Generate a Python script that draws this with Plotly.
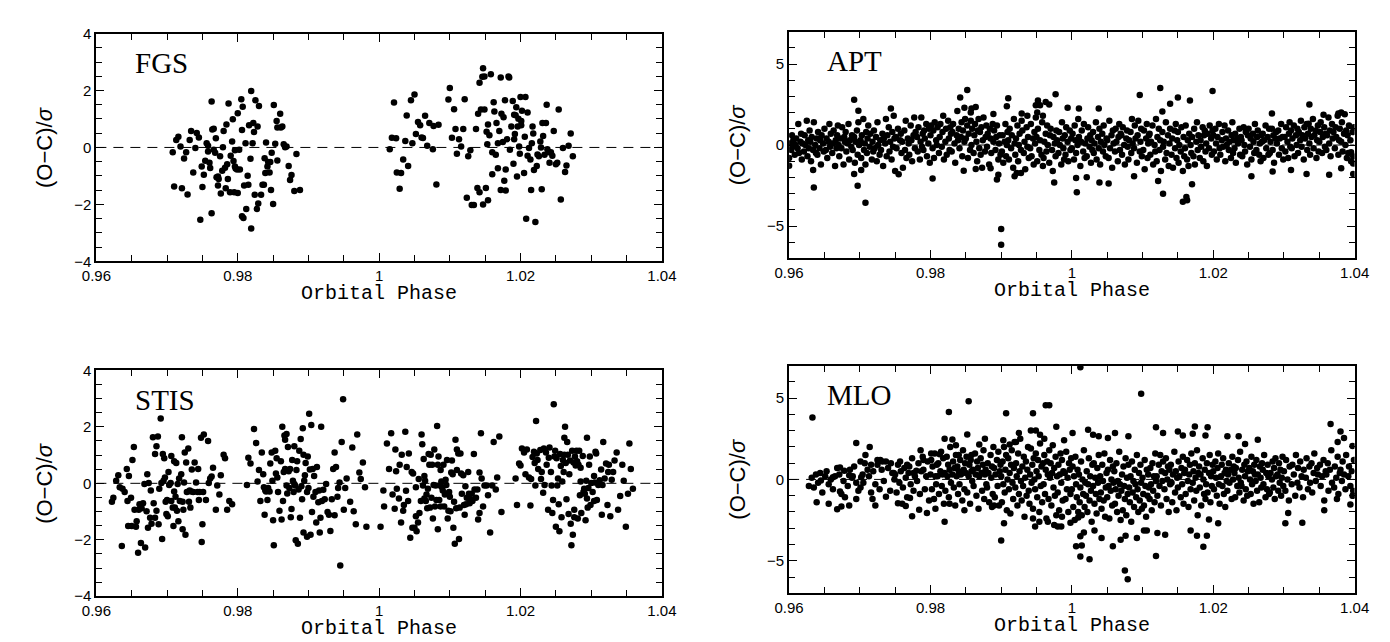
import plotly.graph_objects as go

# FGS residuals (phase, (O-C)/sigma)
fgs_phase = [
    0.9708, 0.9713, 0.9716, 0.9719, 0.9710, 0.9721, 0.9724, 0.9727, 0.9729, 0.9732,
    0.9734, 0.9737, 0.9740, 0.9742, 0.9745, 0.9747, 0.9749, 0.9750, 0.9752, 0.9754,
    0.9756, 0.9758, 0.9758, 0.9760, 0.9761, 0.9763, 0.9763, 0.9764, 0.9766, 0.9766,
    0.9768, 0.9769, 0.9770, 0.9772, 0.9772, 0.9773, 0.9775, 0.9776, 0.9778, 0.9779,
    0.9780, 0.9782, 0.9783, 0.9784, 0.9785, 0.9786, 0.9787, 0.9789, 0.9790, 0.9792,
    0.9793, 0.9794, 0.9795, 0.9796, 0.9796, 0.9797, 0.9799, 0.9800, 0.9800, 0.9802,
    0.9803, 0.9805, 0.9806, 0.9806, 0.9807, 0.9808, 0.9809, 0.9811, 0.9812, 0.9814,
    0.9815, 0.9816, 0.9818, 0.9819, 0.9819, 0.9821, 0.9822, 0.9823, 0.9824, 0.9825,
    0.9827, 0.9828, 0.9829, 0.9830, 0.9833, 0.9835, 0.9837, 0.9838, 0.9839, 0.9840,
    0.9842, 0.9843, 0.9845, 0.9846, 0.9847, 0.9848, 0.9850, 0.9851, 0.9853, 0.9855,
    0.9856, 0.9856, 0.9860, 0.9861, 0.9863, 0.9865, 0.9867, 0.9869, 0.9872, 0.9874,
    0.9876, 0.9880, 0.9883, 0.9888,
    1.0015, 1.0018, 1.0021, 1.0024, 1.0025, 1.0029, 1.0031, 1.0034, 1.0037, 1.0039,
    1.0041, 1.0045, 1.0047, 1.0050, 1.0052, 1.0055, 1.0058, 1.0060, 1.0062, 1.0065,
    1.0068, 1.0071, 1.0076, 1.0077, 1.0081, 1.0084, 1.0098, 1.0100, 1.0103, 1.0106,
    1.0108, 1.0110, 1.0113, 1.0116, 1.0119, 1.0121, 1.0124, 1.0126, 1.0129, 1.0131,
    1.0134, 1.0137, 1.0139, 1.0140, 1.0142, 1.0142, 1.0144, 1.0146, 1.0147, 1.0149,
    1.0147, 1.0149, 1.0151, 1.0152, 1.0153, 1.0154, 1.0154, 1.0156, 1.0158, 1.0160,
    1.0160, 1.0162, 1.0163, 1.0165, 1.0166, 1.0168, 1.0168, 1.0170, 1.0172, 1.0172,
    1.0173, 1.0175, 1.0176, 1.0177, 1.0178, 1.0179, 1.0179, 1.0181, 1.0183, 1.0184,
    1.0185, 1.0187, 1.0189, 1.0190, 1.0191, 1.0191, 1.0192, 1.0193, 1.0194, 1.0195,
    1.0196, 1.0197, 1.0198, 1.0199, 1.0200, 1.0201, 1.0201, 1.0202, 1.0205, 1.0206,
    1.0207, 1.0208, 1.0210, 1.0210, 1.0212, 1.0214, 1.0215, 1.0216, 1.0217, 1.0218,
    1.0219, 1.0221, 1.0223, 1.0224, 1.0226, 1.0228, 1.0229, 1.0230, 1.0231, 1.0232,
    1.0234, 1.0236, 1.0237, 1.0238, 1.0240, 1.0241, 1.0243, 1.0245, 1.0247, 1.0250,
    1.0252, 1.0254, 1.0257, 1.0260, 1.0263, 1.0265, 1.0268, 1.0271, 1.0274,
]
fgs_resid = [
    -0.17, 0.26, 0.38, 0.03, -1.37, -1.43, -0.39, -0.17, -1.65, 0.26,
    0.58, -0.88, -0.02, 0.51, 0.35, -2.54, -0.67, -1.39, -0.96, -0.47,
    0.15, -0.14, 0.06, -0.54, -0.72, 1.61, -2.31, 0.63, 0.66, -0.08,
    -0.19, 0.32, -1.05, -1.02, -1.34, -1.11, -0.31, -1.62, -0.82, 0.01,
    0.58, -0.71, -1.43, 0.81, -0.59, -1.11, 1.54, -1.57, -0.29, 0.21,
    0.99, -0.48, -1.57, -0.67, -0.10, -0.74, -0.77, 1.20, -1.60, -0.08,
    -0.77, 1.69, 0.61, -2.42, 1.43, -2.48, -1.34, 0.15, -2.16, -0.99,
    -1.31, 0.78, -0.40, 1.98, -2.85, 0.15, 0.86, 0.54, -1.66, 1.66,
    -2.16, 0.74, -1.97, 1.46, -1.66, -1.31, -1.31, -0.38, -0.90, 0.17,
    -0.67, -0.51, -0.88, -0.51, -1.49, -0.19, -1.99, 1.49, 0.13, 0.93,
    0.70, -0.46, 1.18, 0.70, 0.74, 0.11, 0.01, 0.03, -0.65, -1.14,
    -0.97, -1.53, -0.23, -1.49,
    -0.06, 0.34, 1.58, 0.32, -0.88, -1.45, -0.90, -0.42, 0.23, 1.12,
    -0.65, 1.66, 0.15, 1.86, 0.47, 0.89, 0.78, 0.35, 0.33, 1.11,
    0.06, 0.86, -0.06, 0.75, -1.30, 0.80, 1.68, 2.09, 0.34, 1.34,
    0.65, -0.22, 0.29, 0.03, 0.65, 1.69, -1.77, -0.31, -0.10, -2.02,
    -2.02, 0.65, -1.42, 1.18, -1.57, 2.27, 1.33, 2.48, 2.78, 2.49,
    -2.00, 1.33, -1.42, 0.55, 0.11, -1.85, 0.81, 0.43, 2.57, -0.17,
    -0.94, 1.59, 1.26, -0.26, 0.86, 0.15, -0.73, 0.58, 2.46, -1.49,
    1.18, 0.19, 1.06, -1.17, 1.66, -0.77, -1.51, 0.29, 2.49, 2.46,
    -0.08, 0.74, 1.63, -0.57, 1.15, 0.29, 0.47, 1.13, 1.41, -1.02,
    0.74, 1.01, 0.03, -0.22, 1.77, 0.78, 0.93, 1.29, -0.90, 0.38,
    1.77, -2.50, -0.29, 1.23, -0.02, -0.42, -1.49, 0.15, 0.74, 0.49,
    -0.79, -2.62, -0.65, -0.25, -0.31, 0.21, 0.00, -1.47, 0.86, 0.40,
    -0.26, 0.86, 1.50, -0.06, -0.17, -0.54, -0.17, -0.29, 0.58, -0.59,
    -0.54, 1.33, -1.83, -0.02, -0.86, -0.63, 0.06, 0.49, -0.31,
]

# STIS residuals
stis_phase = [
    0.9622, 0.9624, 0.9628, 0.9631, 0.9633, 0.9636, 0.9637, 0.9640, 0.9643, 0.9644,
    0.9645, 0.9646, 0.9649, 0.9650, 0.9651, 0.9653, 0.9654, 0.9656, 0.9657, 0.9659,
    0.9660, 0.9661, 0.9663, 0.9664, 0.9666, 0.9668, 0.9669, 0.9671, 0.9672, 0.9673,
    0.9674, 0.9676, 0.9677, 0.9678, 0.9680, 0.9681, 0.9683, 0.9683, 0.9685, 0.9685,
    0.9687, 0.9688, 0.9689, 0.9691, 0.9692, 0.9693, 0.9694, 0.9695, 0.9696, 0.9697,
    0.9698, 0.9699, 0.9700, 0.9701, 0.9702, 0.9703, 0.9705, 0.9706, 0.9706, 0.9708,
    0.9709, 0.9710, 0.9710, 0.9711, 0.9712, 0.9713, 0.9714, 0.9715, 0.9716, 0.9717,
    0.9718, 0.9720, 0.9721, 0.9722, 0.9722, 0.9723, 0.9724, 0.9725, 0.9726, 0.9727,
    0.9728, 0.9730, 0.9731, 0.9732, 0.9733, 0.9734, 0.9735, 0.9737, 0.9739, 0.9741,
    0.9743, 0.9744, 0.9745, 0.9746, 0.9748, 0.9749, 0.9750, 0.9751, 0.9752, 0.9755,
    0.9758, 0.9759, 0.9761, 0.9763, 0.9765, 0.9769, 0.9771, 0.9774, 0.9776, 0.9780,
    0.9782, 0.9785, 0.9788, 0.9792,
    0.9813, 0.9815, 0.9818, 0.9823, 0.9826, 0.9828, 0.9830, 0.9832, 0.9834, 0.9836,
    0.9837, 0.9838, 0.9839, 0.9840, 0.9842, 0.9843, 0.9845, 0.9846, 0.9848, 0.9849,
    0.9850, 0.9851, 0.9853, 0.9854, 0.9855, 0.9856, 0.9857, 0.9859, 0.9861, 0.9862,
    0.9863, 0.9864, 0.9865, 0.9866, 0.9867, 0.9867, 0.9869, 0.9869, 0.9870, 0.9871,
    0.9872, 0.9873, 0.9874, 0.9875, 0.9876, 0.9877, 0.9878, 0.9879, 0.9880, 0.9880,
    0.9881, 0.9882, 0.9883, 0.9884, 0.9885, 0.9886, 0.9887, 0.9888, 0.9889, 0.9890,
    0.9891, 0.9892, 0.9893, 0.9893, 0.9894, 0.9895, 0.9896, 0.9898, 0.9898, 0.9899,
    0.9900, 0.9901, 0.9902, 0.9903, 0.9904, 0.9905, 0.9906, 0.9907, 0.9908, 0.9910,
    0.9911, 0.9912, 0.9914, 0.9915, 0.9916, 0.9917, 0.9918, 0.9919, 0.9921, 0.9923,
    0.9925, 0.9927, 0.9929, 0.9931, 0.9933, 0.9935, 0.9937, 0.9937, 0.9939, 0.9941,
    0.9942, 0.9944, 0.9945, 0.9947, 0.9949, 0.9950, 0.9952, 0.9954, 0.9959, 0.9962,
    0.9964, 0.9967, 0.9969, 0.9972, 0.9974, 0.9977, 0.9980, 0.9982,
    1.0002, 1.0006, 1.0007, 1.0011, 1.0014, 1.0017, 1.0019, 1.0022, 1.0023, 1.0024,
    1.0025, 1.0028, 1.0029, 1.0031, 1.0032, 1.0034, 1.0035, 1.0037, 1.0038, 1.0039,
    1.0041, 1.0042, 1.0044, 1.0046, 1.0047, 1.0048, 1.0050, 1.0052, 1.0052, 1.0053,
    1.0055, 1.0056, 1.0057, 1.0059, 1.0060, 1.0061, 1.0062, 1.0063, 1.0064, 1.0064,
    1.0065, 1.0066, 1.0067, 1.0068, 1.0069, 1.0070, 1.0071, 1.0072, 1.0073, 1.0074,
    1.0075, 1.0076, 1.0077, 1.0078, 1.0079, 1.0080, 1.0081, 1.0082, 1.0083, 1.0083,
    1.0084, 1.0085, 1.0086, 1.0087, 1.0087, 1.0088, 1.0089, 1.0090, 1.0091, 1.0092,
    1.0093, 1.0094, 1.0095, 1.0096, 1.0097, 1.0097, 1.0098, 1.0099, 1.0100, 1.0101,
    1.0102, 1.0103, 1.0104, 1.0105, 1.0106, 1.0107, 1.0108, 1.0109, 1.0110, 1.0110,
    1.0112, 1.0113, 1.0114, 1.0115, 1.0116, 1.0117, 1.0119, 1.0120, 1.0121, 1.0122,
    1.0123, 1.0124, 1.0126, 1.0127, 1.0128, 1.0129, 1.0131, 1.0132, 1.0134, 1.0135,
    1.0137, 1.0139, 1.0140, 1.0142, 1.0142, 1.0144, 1.0145, 1.0147, 1.0149, 1.0152,
    1.0154, 1.0157, 1.0160, 1.0162, 1.0165, 1.0167, 1.0170, 1.0173,
    1.0193, 1.0195, 1.0198, 1.0200, 1.0202, 1.0205, 1.0207, 1.0209, 1.0212, 1.0214,
    1.0215, 1.0217, 1.0219, 1.0220, 1.0221, 1.0222, 1.0223, 1.0224, 1.0225, 1.0228,
    1.0229, 1.0230, 1.0232, 1.0233, 1.0234, 1.0236, 1.0237, 1.0239, 1.0240, 1.0241,
    1.0243, 1.0244, 1.0245, 1.0246, 1.0247, 1.0248, 1.0249, 1.0250, 1.0251, 1.0252,
    1.0253, 1.0254, 1.0255, 1.0256, 1.0257, 1.0258, 1.0259, 1.0260, 1.0261, 1.0262,
    1.0262, 1.0263, 1.0264, 1.0265, 1.0266, 1.0267, 1.0268, 1.0269, 1.0270, 1.0271,
    1.0272, 1.0273, 1.0274, 1.0275, 1.0276, 1.0276, 1.0277, 1.0278, 1.0279, 1.0280,
    1.0281, 1.0282, 1.0283, 1.0284, 1.0285, 1.0285, 1.0286, 1.0288, 1.0289, 1.0290,
    1.0291, 1.0292, 1.0293, 1.0294, 1.0294, 1.0295, 1.0296, 1.0297, 1.0298, 1.0299,
    1.0300, 1.0302, 1.0304, 1.0304, 1.0305, 1.0306, 1.0307, 1.0308, 1.0310, 1.0312,
    1.0314, 1.0315, 1.0316, 1.0317, 1.0319, 1.0321, 1.0323, 1.0324, 1.0325, 1.0327,
    1.0329, 1.0331, 1.0333, 1.0336, 1.0338, 1.0341, 1.0344, 1.0346, 1.0349, 1.0352,
    1.0354, 1.0356, 1.0359,
]
stis_resid = [
    -0.65, -0.51, 0.09, 0.29, -0.14, -2.22, -0.19, -0.31, 0.51, -0.63,
    -1.51, 0.26, -0.51, -1.51, 0.83, 1.29, -0.94, -1.54, -1.34, -2.46,
    -0.94, -0.74, -2.11, -0.88, -0.71, -0.02, -2.27, -0.99, 0.32, -1.57,
    0.01, -1.22, -0.25, -1.43, 1.63, -0.71, -1.22, 1.04, -0.97, 1.31,
    1.66, -1.45, -0.19, 2.30, 0.01, -1.97, 1.04, 0.09, 0.89, 0.21,
    -0.65, -1.09, -0.59, -1.17, 0.40, -0.06, 0.01, 0.97, -0.63, -0.86,
    -1.51, -0.29, 0.78, -0.86, -0.48, 0.72, -0.97, -0.02, -1.34, 0.17,
    -0.63, 0.32, 1.63, -1.63, -0.65, -0.94, 0.03, 1.09, -1.82, 0.74,
    -0.31, 1.23, -0.65, -0.25, -0.86, -0.29, 0.49, -0.31, 0.74, 0.03,
    -0.31, 0.51, -0.59, -0.31, 1.61, -2.08, -1.45, -0.31, 1.73, -0.59,
    1.50, 0.01, 0.17, 0.24, 0.55, -0.94, -0.08, -0.40, 0.29, 1.01,
    0.89, -0.94, -0.63, -0.74,
    -0.06, 0.91, 0.70, 1.92, 1.43, 0.06, 0.47, -0.63, 1.09, 0.32,
    -0.14, -1.11, -0.25, -0.29, -0.59, -0.17, -0.29, 0.70, 1.09, 0.09,
    -1.31, -2.19, 1.15, 0.35, 0.89, 0.21, -0.31, -0.97, 0.78, -1.28,
    2.00, -0.63, 0.40, 1.69, 0.51, 1.54, 1.75, -0.08, -0.36, 1.29,
    0.43, -0.17, 0.51, -1.20, -0.91, 0.83, 0.09, -0.31, 1.31, -0.02,
    -0.08, -2.02, 0.47, 0.78, -2.14, -0.22, 1.15, -1.22, 1.57, -0.10,
    -0.56, 1.95, -1.74, 1.01, 0.09, 0.29, 0.72, -1.89, -0.31, 0.95,
    -0.17, 2.46, 0.49, -1.82, 2.07, -1.02, 0.51, -0.48, 0.26, -0.31,
    -1.39, 0.58, -0.67, -0.25, -1.74, -1.22, 2.00, -0.63, -0.23, -0.56,
    -0.02, -1.02, -1.11, -1.69, -0.56, 0.51, 1.09, -1.13, 0.58, -0.48,
    -0.17, 0.03, -2.91, 1.46, 2.98, -0.94, -0.17, 0.17, -0.65, 1.27,
    -0.99, -1.45, 1.73, 0.38, 0.15, 0.74, -0.14, -1.54,
    -1.54, -0.25, -0.82, 1.41, 0.51, 1.77, -0.40, -0.90, 1.20, 0.43,
    -0.19, -0.54, 0.66, -1.39, 1.01, -0.97, -0.77, 1.83, -0.26, 0.58,
    -0.63, 1.06, -1.93, 0.40, -1.57, 0.35, -1.57, -1.17, -0.14, -1.70,
    -1.39, 0.15, -1.05, -0.63, 1.73, 1.38, -0.08, 0.86, 0.26, -0.54,
    0.09, -0.63, -0.40, -0.88, -0.19, 1.04, 0.66, -0.86, 1.01, -0.51,
    0.66, -1.25, -0.06, 1.20, -0.82, -0.08, -0.59, 2.03, 0.66, -1.63,
    0.95, -0.59, -0.08, 0.47, -0.82, 0.06, -0.14, -0.25, 0.66, -0.82,
    -0.40, 0.13, -0.06, 0.83, -1.25, -0.37, -0.97, -0.31, -0.48, -0.99,
    0.38, 0.81, 0.32, -1.57, -0.65, -2.14, 1.54, -0.88, 1.20, 0.47,
    1.06, -1.97, -0.86, 1.06, 0.35, -0.37, 0.29, -0.77, -1.11, -0.10,
    -0.74, -0.51, 0.40, -0.37, -0.71, -0.56, -0.37, -0.63, 1.04, -0.22,
    -0.51, -0.22, -1.28, -1.05, 0.38, 1.77, 0.17, -0.82, -0.08, -0.08,
    -0.42, -1.74, -0.08, 1.46, -0.22, 0.21, 1.66, -1.02,
    0.17, -0.77, 0.70, 0.63, 1.23, 1.09, 0.32, 1.20, 0.21, -0.79,
    0.15, 0.93, 1.12, 0.72, -0.08, 2.21, 1.06, 0.83, 0.51, 1.18,
    0.15, 0.40, -0.33, 1.23, -0.06, 1.09, 0.66, -0.94, 0.91, 1.27,
    0.40, -0.08, -1.05, -0.59, 2.80, 0.95, 1.15, -1.54, 0.89, -0.08,
    0.17, -0.74, -1.70, 1.04, 0.61, -1.20, 0.06, 0.83, 0.40, 1.61,
    1.01, 2.00, 0.72, -0.56, 1.46, 1.01, -1.09, 0.32, 0.81, -1.43,
    -2.19, 1.15, -1.82, 0.74, -1.20, -0.94, 0.95, 0.63, 1.15, 0.78,
    -1.25, 0.66, 1.15, -0.42, 0.55, 0.06, -1.05, 0.97, -0.31, -0.19,
    -0.37, -1.31, 0.09, -0.54, 1.61, -0.86, -0.17, 0.66, 0.95, -0.77,
    0.01, -0.31, 0.26, -0.63, 0.03, 1.12, 1.06, -0.59, -0.06, 0.11,
    0.49, -1.11, -0.06, 1.46, 0.17, 0.70, -0.77, 0.40, 0.66, -1.17,
    0.13, 0.40, 0.81, 1.09, -0.94, -0.45, 0.66, 0.09, -1.54, -0.37,
    1.41, 0.51, -0.19,
]

# APT residuals: dense band plus the scattered points
apt_band_phase = [
    0.9600, 0.9601, 0.9603, 0.9604, 0.9605, 0.9606, 0.9608, 0.9609,
    0.9610, 0.9612, 0.9613, 0.9614, 0.9616, 0.9617, 0.9618, 0.9619,
    0.9621, 0.9622, 0.9623, 0.9625, 0.9626, 0.9627, 0.9628, 0.9629,
    0.9630, 0.9631, 0.9632, 0.9634, 0.9635, 0.9637, 0.9638, 0.9639,
    0.9640, 0.9641, 0.9643, 0.9644, 0.9645, 0.9646, 0.9648, 0.9649,
    0.9650, 0.9652, 0.9653, 0.9654, 0.9656, 0.9657, 0.9658, 0.9659,
    0.9661, 0.9662, 0.9663, 0.9665, 0.9666, 0.9667, 0.9668, 0.9669,
    0.9670, 0.9671, 0.9672, 0.9674, 0.9675, 0.9677, 0.9678, 0.9679,
    0.9680, 0.9681, 0.9683, 0.9684, 0.9685, 0.9686, 0.9688, 0.9689,
    0.9690, 0.9692, 0.9693, 0.9694, 0.9696, 0.9697, 0.9698, 0.9699,
    0.9701, 0.9702, 0.9703, 0.9705, 0.9706, 0.9707, 0.9708, 0.9709,
    0.9710, 0.9711, 0.9712, 0.9714, 0.9715, 0.9717, 0.9718, 0.9719,
    0.9720, 0.9721, 0.9723, 0.9724, 0.9725, 0.9726, 0.9728, 0.9729,
    0.9730, 0.9732, 0.9733, 0.9734, 0.9736, 0.9737, 0.9738, 0.9739,
    0.9741, 0.9742, 0.9743, 0.9745, 0.9746, 0.9747, 0.9748, 0.9749,
    0.9750, 0.9751, 0.9752, 0.9754, 0.9755, 0.9757, 0.9758, 0.9759,
    0.9760, 0.9761, 0.9763, 0.9764, 0.9765, 0.9766, 0.9768, 0.9769,
    0.9770, 0.9772, 0.9773, 0.9774, 0.9776, 0.9777, 0.9778, 0.9779,
    0.9781, 0.9782, 0.9783, 0.9785, 0.9786, 0.9787, 0.9788, 0.9789,
    0.9790, 0.9791, 0.9792, 0.9794, 0.9795, 0.9797, 0.9798, 0.9799,
    0.9800, 0.9801, 0.9803, 0.9804, 0.9805, 0.9806, 0.9808, 0.9809,
    0.9810, 0.9812, 0.9813, 0.9814, 0.9816, 0.9817, 0.9818, 0.9819,
    0.9821, 0.9822, 0.9823, 0.9825, 0.9826, 0.9827, 0.9828, 0.9829,
    0.9830, 0.9831, 0.9832, 0.9834, 0.9835, 0.9837, 0.9838, 0.9839,
    0.9840, 0.9841, 0.9843, 0.9844, 0.9845, 0.9846, 0.9848, 0.9849,
    0.9850, 0.9852, 0.9853, 0.9854, 0.9856, 0.9857, 0.9858, 0.9859,
    0.9861, 0.9862, 0.9863, 0.9865, 0.9866, 0.9867, 0.9868, 0.9869,
    0.9870, 0.9871, 0.9872, 0.9874, 0.9875, 0.9877, 0.9878, 0.9879,
    0.9880, 0.9881, 0.9883, 0.9884, 0.9885, 0.9886, 0.9888, 0.9889,
    0.9890, 0.9892, 0.9893, 0.9894, 0.9896, 0.9897, 0.9898, 0.9899,
    0.9901, 0.9902, 0.9903, 0.9905, 0.9906, 0.9907, 0.9908, 0.9909,
    0.9910, 0.9911, 0.9912, 0.9914, 0.9915, 0.9917, 0.9918, 0.9919,
    0.9920, 0.9921, 0.9923, 0.9924, 0.9925, 0.9926, 0.9928, 0.9929,
    0.9930, 0.9932, 0.9933, 0.9934, 0.9936, 0.9937, 0.9938, 0.9939,
    0.9941, 0.9942, 0.9943, 0.9945, 0.9946, 0.9947, 0.9948, 0.9949,
    0.9950, 0.9951, 0.9952, 0.9954, 0.9955, 0.9957, 0.9958, 0.9959,
    0.9960, 0.9961, 0.9963, 0.9964, 0.9965, 0.9966, 0.9968, 0.9969,
    0.9970, 0.9972, 0.9973, 0.9974, 0.9976, 0.9977, 0.9978, 0.9979,
    0.9981, 0.9982, 0.9983, 0.9985, 0.9986, 0.9987, 0.9988, 0.9989,
    0.9990, 0.9991, 0.9992, 0.9994, 0.9995, 0.9997, 0.9998, 0.9999,
    1.0000, 1.0001, 1.0003, 1.0004, 1.0005, 1.0006, 1.0008, 1.0009,
    1.0010, 1.0012, 1.0013, 1.0014, 1.0016, 1.0017, 1.0018, 1.0019,
    1.0021, 1.0022, 1.0023, 1.0025, 1.0026, 1.0027, 1.0028, 1.0029,
    1.0030, 1.0031, 1.0032, 1.0034, 1.0035, 1.0037, 1.0038, 1.0039,
    1.0040, 1.0041, 1.0043, 1.0044, 1.0045, 1.0046, 1.0048, 1.0049,
    1.0050, 1.0052, 1.0053, 1.0054, 1.0056, 1.0057, 1.0058, 1.0059,
    1.0061, 1.0062, 1.0063, 1.0065, 1.0066, 1.0067, 1.0068, 1.0069,
    1.0070, 1.0071, 1.0072, 1.0074, 1.0075, 1.0077, 1.0078, 1.0079,
    1.0080, 1.0081, 1.0083, 1.0084, 1.0085, 1.0086, 1.0088, 1.0089,
    1.0090, 1.0092, 1.0093, 1.0094, 1.0096, 1.0097, 1.0098, 1.0099,
    1.0101, 1.0102, 1.0103, 1.0105, 1.0106, 1.0107, 1.0108, 1.0109,
    1.0110, 1.0111, 1.0112, 1.0114, 1.0115, 1.0117, 1.0118, 1.0119,
    1.0120, 1.0121, 1.0123, 1.0124, 1.0125, 1.0126, 1.0128, 1.0129,
    1.0130, 1.0132, 1.0133, 1.0134, 1.0136, 1.0137, 1.0138, 1.0139,
    1.0141, 1.0142, 1.0143, 1.0145, 1.0146, 1.0147, 1.0148, 1.0149,
    1.0150, 1.0151, 1.0152, 1.0154, 1.0155, 1.0157, 1.0158, 1.0159,
    1.0160, 1.0161, 1.0163, 1.0164, 1.0165, 1.0166, 1.0168, 1.0169,
    1.0170, 1.0172, 1.0173, 1.0174, 1.0176, 1.0177, 1.0178, 1.0179,
    1.0181, 1.0182, 1.0183, 1.0185, 1.0186, 1.0187, 1.0188, 1.0189,
    1.0190, 1.0191, 1.0192, 1.0194, 1.0195, 1.0197, 1.0198, 1.0199,
    1.0200, 1.0201, 1.0203, 1.0204, 1.0205, 1.0206, 1.0208, 1.0209,
    1.0210, 1.0212, 1.0213, 1.0214, 1.0216, 1.0217, 1.0218, 1.0219,
    1.0221, 1.0222, 1.0223, 1.0225, 1.0226, 1.0227, 1.0228, 1.0229,
    1.0230, 1.0231, 1.0232, 1.0234, 1.0235, 1.0237, 1.0238, 1.0239,
    1.0240, 1.0241, 1.0243, 1.0244, 1.0245, 1.0246, 1.0248, 1.0249,
    1.0250, 1.0252, 1.0253, 1.0254, 1.0256, 1.0257, 1.0258, 1.0259,
    1.0261, 1.0262, 1.0263, 1.0265, 1.0266, 1.0267, 1.0268, 1.0269,
    1.0270, 1.0271, 1.0272, 1.0274, 1.0275, 1.0277, 1.0278, 1.0279,
    1.0280, 1.0281, 1.0283, 1.0284, 1.0285, 1.0286, 1.0288, 1.0289,
    1.0290, 1.0292, 1.0293, 1.0294, 1.0296, 1.0297, 1.0298, 1.0299,
    1.0301, 1.0302, 1.0303, 1.0305, 1.0306, 1.0307, 1.0308, 1.0309,
    1.0310, 1.0311, 1.0312, 1.0314, 1.0315, 1.0317, 1.0318, 1.0319,
    1.0320, 1.0321, 1.0323, 1.0324, 1.0325, 1.0326, 1.0328, 1.0329,
    1.0330, 1.0332, 1.0333, 1.0334, 1.0336, 1.0337, 1.0338, 1.0339,
    1.0341, 1.0342, 1.0343, 1.0345, 1.0346, 1.0347, 1.0348, 1.0349,
    1.0350, 1.0351, 1.0352, 1.0354, 1.0355, 1.0357, 1.0358, 1.0359,
    1.0360, 1.0361, 1.0363, 1.0364, 1.0365, 1.0366, 1.0368, 1.0369,
    1.0370, 1.0372, 1.0373, 1.0374, 1.0376, 1.0377, 1.0378, 1.0379,
    1.0381, 1.0382, 1.0383, 1.0385, 1.0386, 1.0387, 1.0388, 1.0389,
    1.0390, 1.0391, 1.0392, 1.0394, 1.0395, 1.0397, 1.0398, 1.0399,
]
apt_band_resid = [
    -0.8, 0.1, -0.3, 0.6, -0.1, 0.3, -0.6, 0.0,
    0.4, -0.2, 1.3, -0.5, 0.2, 0.7, -0.9, 0.1,
    -0.4, 0.6, 0.0, 1.5, -0.7, 0.3, -0.2, 0.9,
    0.2, -1.0, 0.5, -0.3, 1.4, 0.0, -0.5, 0.4,
    -0.6, 0.8, -0.2, 0.3, -1.2, 0.6, 0.1, -0.4,
    1.0, -0.3, 0.4, -0.8, 0.2, 1.3, -0.1, 0.7,
    -0.5, 0.1, 0.9, -1.3, 0.3, -0.2, 0.6, 1.2,
    0.0, -0.7, 0.4, -0.2, 1.1, -1.2, 0.5, 0.2,
    0.8, -0.4, 0.1, 1.3, -0.9, 0.3, -0.1, 0.6,
    -0.3, 0.5, -1.1, 0.2, 0.9, -0.6, 1.4, 0.0,
    0.3, -0.8, 0.6, 1.6, -0.3, 0.1, -1.2, 0.8,
    -0.5, 0.4, 1.2, -0.1, 0.7, -0.9, 0.2, -0.4,
    0.9, -0.2, 0.5, -1.0, 1.4, 0.0, -0.6, 0.3,
    -0.3, 0.7, -1.3, 0.4, 0.1, 1.6, -0.7, 0.6,
    1.1, -0.4, 0.2, -0.9, 0.8, -0.1, 1.8, 0.4,
    -1.6, 0.5, -0.2, 1.0, -1.8, 0.3, 0.7, -0.5,
    0.2, -1.4, 0.9, -0.3, 1.5, -0.8, 0.4, 0.1,
    -0.6, 1.2, 0.3, -1.0, 0.6, 1.7, -0.2, 0.8,
    0.5, -0.4, 1.1, -0.9, 0.2, 1.7, -0.1, 0.7,
    -0.3, 0.9, 0.4, 1.3, -0.7, 0.1, 1.0, -1.1,
    0.6, 1.2, -0.2, 0.9, -0.8, 1.4, 0.3, 0.0,
    1.1, -0.5, 0.5, 1.3, -0.1, 0.8, 1.8, -0.9,
    0.2, 1.0, -0.6, 1.5, 0.4, -0.3, 1.1, 0.7,
    -0.4, 0.8, 1.3, 0.1, -1.1, 0.6, 2.1, 0.3,
    1.0, -0.2, 0.5, 1.4, -0.7, 0.9, 0.2, 1.6,
    0.4, 1.2, -0.8, 0.7, -0.3, 1.5, 0.0, 1.0,
    -0.5, 0.6, 1.3, 0.2, -1.0, 0.9, 1.6, -0.2,
    0.8, -0.6, 1.1, 0.3, 1.7, -0.4, 0.5, 1.2,
    -0.1, 0.7, -1.2, 1.0, 0.4, -0.5, 1.3, 0.2,
    0.9, -0.3, 0.5, 1.2, -0.9, 0.1, 0.6, -0.6,
    -0.4, 0.6, -1.1, 0.2, 1.3, -0.7, 0.0, 0.8,
    0.3, -0.9, 1.0, -0.2, 0.6, -1.4, 1.6, 0.1,
    -0.6, 0.4, 1.2, -1.0, 0.0, 0.7, -0.3, 1.5,
    0.9, -0.5, 0.2, -1.5, 1.1, -0.1, 0.5, -0.8,
    -0.2, 1.3, -0.7, 0.4, -1.2, 0.8, 0.1, 1.7,
    0.5, -1.0, 1.0, -0.3, 0.3, -0.6, 1.4, -1.3,
    -0.8, 0.2, 0.7, -0.4, 1.2, 0.0, -1.1, 0.6,
    1.0, -0.3, -1.6, 0.5, 0.1, -0.7, 0.9, 0.3,
    -0.5, 0.8, 0.0, -1.2, 1.4, 0.4, -0.2, -0.9,
    0.6, -0.6, 1.1, 0.2, -1.0, 0.9, -0.3, 0.4,
    -0.2, 0.7, -0.9, 1.2, 0.3, -0.5, 0.0, 1.6,
    0.5, -1.3, 0.2, 0.9, -0.4, 1.3, -0.8, 0.1,
    -0.7, 0.4, 1.1, -0.1, 0.6, -1.1, 0.3, -0.3,
    0.8, -0.5, 0.1, 1.4, -0.9, 0.5, -0.2, 1.0,
    -1.2, 0.2, 0.7, -0.4, 1.2, 0.0, -0.7, 0.4,
    0.3, -0.8, 1.5, -0.2, 0.6, -1.4, 0.9, 0.1,
    -0.4, 1.0, 0.2, -1.0, 0.5, 1.3, -0.3, 0.7,
    0.6, -0.6, 1.1, 0.0, -1.2, 0.4, 0.9, -0.1,
    -0.9, 0.3, 0.8, -0.5, 1.6, 0.1, -0.2, 1.2,
    0.4, -1.1, 0.6, 1.5, -0.4, 0.2, 1.0, -0.7,
    -0.3, 0.9, -1.5, 0.4, 1.3, -0.8, 0.1, 0.6,
    0.7, -0.6, 0.2, 1.2, -1.2, 0.0, -0.4, 1.6,
    -1.0, 0.5, 1.0, -0.3, 0.3, -1.6, 0.8, -0.1,
    0.2, -0.9, 1.4, -0.5, 0.6, -1.3, 0.1, 1.0,
    -0.6, 0.4, -1.4, 0.9, -0.2, 1.3, -0.8, 0.3,
    0.8, -1.1, 0.0, -0.4, 1.1, -1.6, 0.5, -0.7,
    -0.2, 1.2, -0.9, 0.3, -1.3, 0.7, 0.0, -0.5,
    0.5, -0.7, 1.0, -1.2, 0.2, 1.4, -0.3, 0.6,
    -0.8, 0.3, -0.1, 1.1, -1.0, 0.6, 0.9, -0.4,
    0.1, -1.3, 0.7, -0.2, 1.2, 0.4, -0.6, 0.9,
    0.6, -0.4, 1.0, 0.1, -0.9, 0.5, 1.3, -0.2,
    -0.6, 0.3, 0.8, -0.1, 1.2, -1.0, 0.4, 0.0,
    0.9, -0.3, 0.2, -0.8, 0.6, 1.4, -0.5, 0.3,
    -0.2, 0.7, -1.1, 0.4, 0.1, 1.0, -0.6, 0.5,
    0.3, -0.7, 1.1, 0.0, -0.4, 0.8, -1.2, 0.6,
    1.0, -0.1, 0.4, -0.9, 0.7, 0.2, -0.5, 1.3,
    -0.3, 0.5, 0.9, -0.6, 0.1, -1.0, 0.6, 0.2,
    0.7, -0.8, 0.3, 1.2, -0.2, 0.5, -0.6, 1.0,
    -0.5, 0.2, 1.0, -0.3, 0.6, -1.1, 0.4, 0.8,
    0.1, 0.9, -0.6, 0.4, 1.3, -0.2, 0.5, -0.9,
    0.5, -0.4, 1.1, 0.2, -0.8, 0.7, 1.4, -0.1,
    0.9, -0.2, 0.4, 1.2, -0.7, 0.6, 0.0, 1.0,
    -0.5, 0.8, 0.3, 1.5, -0.1, 0.6, -0.9, 1.1,
    0.4, 1.3, -0.3, 0.7, 0.1, -0.6, 1.0, 0.5,
    1.6, -0.2, 0.6, 0.9, -0.8, 0.3, 1.2, -0.4,
    0.2, 0.8, 1.4, -0.5, 0.5, 1.1, -0.1, 0.7,
    -0.3, 0.6, 1.7, 0.1, 0.9, -0.7, 1.3, 0.4,
    0.8, -0.2, 1.1, 0.5, 1.8, -0.6, 0.3, 1.0,
    0.2, 1.4, -0.4, 0.7, 1.9, 0.0, 0.9, -0.8,
    0.6, -0.5, 1.2, 0.3, -1.0, 0.8, -0.7, 1.1,
]
apt_out_phase = [
    0.9600, 0.9634, 0.9635, 0.9692, 0.9692, 0.9697, 0.9698, 0.9702, 0.9708, 0.9744,
    0.9803, 0.9842, 0.9847, 0.9848, 0.9852, 0.9857, 0.9858, 0.9864, 0.9864, 0.9873,
    0.9885, 0.9889, 0.9894, 0.9896, 0.9900, 0.9900, 0.9908, 0.9910, 0.9919, 0.9922,
    0.9928, 0.9929, 0.9937, 0.9949, 0.9951, 0.9952, 0.9955, 0.9959, 0.9963, 0.9968,
    0.9975, 0.9977, 0.9994, 1.0006, 1.0007, 1.0010, 1.0021, 1.0038, 1.0039, 1.0052,
    1.0088, 1.0096, 1.0122, 1.0125, 1.0128, 1.0129, 1.0139, 1.0150, 1.0157, 1.0162,
    1.0163, 1.0167, 1.0170, 1.0199, 1.0254, 1.0283, 1.0284, 1.0310, 1.0332, 1.0335,
    1.0336, 1.0356, 1.0364, 1.0377, 1.0381, 1.0381, 1.0395, 1.0398, 1.0398,
]
apt_out_resid = [
    -1.28, -1.54, -2.62, 2.80, -1.79, -2.52, 2.11, -1.54, -3.56, 2.26,
    -2.07, 2.93, -1.59, 2.30, 3.39, 2.01, 2.26, 2.34, -1.48, -1.40,
    -1.44, 1.91, -2.13, -1.83, -5.18, -6.16, 2.40, 2.89, -1.93, -1.73,
    -1.73, 1.95, 1.81, 2.46, 2.01, 2.74, 2.46, 1.81, 2.66, 2.50,
    -2.32, 3.13, 2.30, -2.03, -2.91, 2.26, -1.99, 2.26, -2.32, -2.38,
    -1.93, 3.09, -2.22, 3.52, 2.07, -3.01, 2.54, 2.93, -3.50, -3.21,
    -3.41, 2.74, -2.42, 3.33, -1.93, 1.95, -1.63, -1.54, -1.79, 1.32,
    2.50, 1.87, -1.83, 1.95, 2.01, -1.44, -0.45, -1.14, -1.79,
]

# MLO residuals: main cloud plus the scattered points
mlo_band_phase = [
    0.9632, 0.9635, 0.9638, 0.9641, 0.9644, 0.9647, 0.9653, 0.9656, 0.9659,
    0.9662, 0.9665, 0.9668, 0.9671, 0.9674, 0.9677, 0.9683, 0.9686, 0.9689,
    0.9692, 0.9695, 0.9698, 0.9701, 0.9704, 0.9707, 0.9713, 0.9716, 0.9719,
    0.9722, 0.9725, 0.9728, 0.9731, 0.9734, 0.9737, 0.9743, 0.9746, 0.9749,
    0.9750, 0.9752, 0.9754, 0.9756, 0.9758, 0.9761, 0.9763, 0.9765, 0.9767, 0.9769,
    0.9770, 0.9772, 0.9774, 0.9776, 0.9778, 0.9781, 0.9783, 0.9785, 0.9787, 0.9789,
    0.9790, 0.9792, 0.9794, 0.9796, 0.9798,
    0.9800, 0.9801, 0.9802, 0.9803, 0.9805, 0.9806, 0.9807, 0.9808, 0.9809,
    0.9810, 0.9811, 0.9812, 0.9814, 0.9815, 0.9816, 0.9817, 0.9818, 0.9819,
    0.9820, 0.9821, 0.9823, 0.9824, 0.9825, 0.9826, 0.9827, 0.9828, 0.9829,
    0.9831, 0.9832, 0.9833, 0.9834, 0.9835, 0.9836, 0.9837, 0.9838, 0.9839,
    0.9840, 0.9841, 0.9842, 0.9843, 0.9845, 0.9846, 0.9847, 0.9848, 0.9849,
    0.9850, 0.9851, 0.9852, 0.9854, 0.9855, 0.9856, 0.9857, 0.9858, 0.9859,
    0.9860, 0.9861, 0.9863, 0.9864, 0.9865, 0.9866, 0.9867, 0.9868, 0.9869,
    0.9871, 0.9872, 0.9873, 0.9874, 0.9875, 0.9876, 0.9877, 0.9878, 0.9879,
    0.9880, 0.9881, 0.9882, 0.9883, 0.9885, 0.9886, 0.9887, 0.9888, 0.9889,
    0.9890, 0.9891, 0.9892, 0.9894, 0.9895, 0.9896, 0.9897, 0.9898, 0.9899,
    0.9900, 0.9901, 0.9902, 0.9903, 0.9904, 0.9905, 0.9906, 0.9907, 0.9908, 0.9909,
    0.9910, 0.9911, 0.9912, 0.9913, 0.9914, 0.9915, 0.9916, 0.9917, 0.9918, 0.9919,
    0.9920, 0.9921, 0.9922, 0.9923, 0.9924, 0.9925, 0.9926, 0.9927, 0.9928, 0.9929,
    0.9930, 0.9931, 0.9932, 0.9933, 0.9934, 0.9935, 0.9936, 0.9937, 0.9938, 0.9939,
    0.9940, 0.9941, 0.9942, 0.9943, 0.9944, 0.9945, 0.9946, 0.9947, 0.9948, 0.9949,
    0.9950, 0.9951, 0.9952, 0.9953, 0.9954, 0.9955, 0.9956, 0.9957, 0.9958, 0.9959,
    0.9960, 0.9961, 0.9962, 0.9963, 0.9964, 0.9965, 0.9966, 0.9967, 0.9968, 0.9969,
    0.9970, 0.9971, 0.9972, 0.9973, 0.9974, 0.9975, 0.9976, 0.9977, 0.9978, 0.9979,
    0.9980, 0.9981, 0.9982, 0.9983, 0.9984, 0.9985, 0.9986, 0.9987, 0.9988, 0.9989,
    0.9990, 0.9991, 0.9992, 0.9993, 0.9994, 0.9995, 0.9996, 0.9997, 0.9998, 0.9999,
    1.0000, 1.0001, 1.0002, 1.0003, 1.0004, 1.0005, 1.0006, 1.0007, 1.0008, 1.0009,
    1.0010, 1.0011, 1.0012, 1.0013, 1.0014, 1.0015, 1.0016, 1.0017, 1.0018, 1.0019,
    1.0020, 1.0021, 1.0022, 1.0023, 1.0024, 1.0025, 1.0026, 1.0027, 1.0028, 1.0029,
    1.0030, 1.0031, 1.0032, 1.0033, 1.0034, 1.0035, 1.0036, 1.0037, 1.0038, 1.0039,
    1.0040, 1.0041, 1.0042, 1.0043, 1.0044, 1.0045, 1.0046, 1.0047, 1.0048, 1.0049,
    1.0050, 1.0051, 1.0052, 1.0053, 1.0054, 1.0055, 1.0056, 1.0057, 1.0058, 1.0059,
    1.0060, 1.0061, 1.0062, 1.0063, 1.0064, 1.0065, 1.0066, 1.0067, 1.0068, 1.0069,
    1.0070, 1.0071, 1.0072, 1.0073, 1.0074, 1.0075, 1.0076, 1.0077, 1.0078, 1.0079,
    1.0080, 1.0081, 1.0082, 1.0083, 1.0084, 1.0085, 1.0086, 1.0087, 1.0088, 1.0089,
    1.0090, 1.0091, 1.0092, 1.0093, 1.0094, 1.0095, 1.0096, 1.0097, 1.0098, 1.0099,
    1.0100, 1.0101, 1.0102, 1.0103, 1.0104, 1.0105, 1.0106, 1.0107, 1.0108, 1.0109,
    1.0110, 1.0111, 1.0112, 1.0113, 1.0114, 1.0115, 1.0116, 1.0117, 1.0118, 1.0119,
    1.0120, 1.0121, 1.0123, 1.0124, 1.0125, 1.0126, 1.0127, 1.0128, 1.0129,
    1.0131, 1.0132, 1.0133, 1.0134, 1.0135, 1.0136, 1.0137, 1.0138, 1.0139,
    1.0140, 1.0141, 1.0142, 1.0143, 1.0145, 1.0146, 1.0147, 1.0148, 1.0149,
    1.0150, 1.0151, 1.0152, 1.0154, 1.0155, 1.0156, 1.0157, 1.0158, 1.0159,
    1.0160, 1.0161, 1.0163, 1.0164, 1.0165, 1.0166, 1.0167, 1.0168, 1.0169,
    1.0171, 1.0172, 1.0173, 1.0174, 1.0175, 1.0176, 1.0177, 1.0178, 1.0179,
    1.0180, 1.0181, 1.0182, 1.0183, 1.0185, 1.0186, 1.0187, 1.0188, 1.0189,
    1.0190, 1.0191, 1.0192, 1.0194, 1.0195, 1.0196, 1.0197, 1.0198, 1.0199,
    1.0200, 1.0201, 1.0203, 1.0204, 1.0205, 1.0206, 1.0207, 1.0208, 1.0209,
    1.0211, 1.0212, 1.0213, 1.0214, 1.0215, 1.0216, 1.0217, 1.0218, 1.0219,
    1.0220, 1.0221, 1.0222, 1.0223, 1.0225, 1.0226, 1.0227, 1.0228, 1.0229,
    1.0230, 1.0231, 1.0232, 1.0234, 1.0235, 1.0236, 1.0237, 1.0238, 1.0239,
    1.0240, 1.0241, 1.0243, 1.0244, 1.0245, 1.0246, 1.0247, 1.0248, 1.0249,
    1.0251, 1.0252, 1.0253, 1.0254, 1.0255, 1.0256, 1.0257, 1.0258, 1.0259,
    1.0260, 1.0261, 1.0262, 1.0263, 1.0265, 1.0266, 1.0267, 1.0268, 1.0269,
    1.0270, 1.0271, 1.0272, 1.0274, 1.0275, 1.0276, 1.0277, 1.0278, 1.0279,
    1.0280, 1.0281, 1.0283, 1.0284, 1.0285, 1.0286, 1.0287, 1.0288, 1.0289,
    1.0291, 1.0292, 1.0293, 1.0294, 1.0295, 1.0296, 1.0297, 1.0298, 1.0299,
    1.0300, 1.0302, 1.0303, 1.0305, 1.0307, 1.0308,
    1.0311, 1.0312, 1.0314, 1.0316, 1.0317, 1.0319,
    1.0320, 1.0322, 1.0323, 1.0325, 1.0327, 1.0328,
    1.0331, 1.0332, 1.0334, 1.0336, 1.0337, 1.0339,
    1.0340, 1.0342, 1.0343, 1.0345, 1.0347, 1.0348,
    1.0351, 1.0352, 1.0354, 1.0356, 1.0357, 1.0359,
    1.0360, 1.0362, 1.0363, 1.0365, 1.0367, 1.0368,
    1.0371, 1.0372, 1.0374, 1.0376, 1.0377, 1.0379,
    1.0380, 1.0382, 1.0383, 1.0385, 1.0387, 1.0388,
    1.0391, 1.0392, 1.0394, 1.0396, 1.0397, 1.0399,
]
mlo_band_resid = [
    0.1, -0.5, 0.3, -0.2, 0.4, -0.8, 0.5, -0.3, 0.0,
    -0.6, 0.2, 0.7, 0.3, -0.9, -0.1, -0.4, 0.6, 0.1,
    0.8, -0.2, -0.7, -0.5, 0.3, 1.0, 0.2, -0.8, 0.5,
    -0.3, 0.9, -0.6, 0.6, -0.1, 1.1, -0.7, 0.4, 0.0,
    0.3, -0.8, 0.9, -0.2, 0.5, -0.5, 0.7, 0.1, -1.1, 0.4,
    0.8, -0.3, 1.3, -0.7, 0.2, -0.1, 1.0, -0.9, 0.5, 1.4,
    0.6, -0.6, 0.2, 1.1, -1.3,
    0.3, 1.2, -0.6, 0.8, -1.2, 1.6, 0.2, -0.3, 0.9,
    0.2, 1.0, -0.9, 0.5, 1.7, -0.4, 0.3, 1.3, -1.5,
    0.4, -0.7, 1.4, 0.2, 0.9, -1.1, 0.6, 2.0, -0.2,
    0.3, 1.1, -0.5, 0.7, -1.6, 1.5, 0.2, 0.8, -0.9,
    0.5, -0.3, 1.2, 0.3, -1.3, 1.8, 0.6, -0.6, 1.0,
    0.4, 1.4, -0.8, 0.2, 0.9, -1.5, 1.2, 0.5, -0.1,
    0.6, -0.4, 1.6, 0.3, -1.0, 1.1, 0.7, -1.8, 0.2,
    1.3, 0.4, -0.7, 0.9, 1.8, -1.2, 0.3, 0.6, -0.3,
    -0.5, 1.0, 0.4, -1.4, 1.5, 0.1, 0.8, -0.9, 2.0,
    0.7, -1.1, 0.3, 1.2, -0.4, 1.7, -1.6, 0.5, 0.9,
    0.2, -1.4, 1.1, -0.3, 2.0, -0.8, 0.6, 1.5, -1.9, 0.0,
    1.3, -0.6, 0.4, -2.1, 0.9, 1.8, -0.2, -1.2, 0.7, 2.3,
    -0.5, 1.0, 0.2, -1.6, 1.6, -0.9, 0.5, 2.5, -0.1, -1.3,
    0.8, -0.4, 1.4, -2.3, 0.1, 1.1, -1.0, 0.6, 2.0, -0.7,
    -1.5, 0.3, 1.9, -0.2, 0.9, -1.8, 1.3, 0.0, -0.6, 1.6,
    0.5, -1.1, 1.2, 0.2, -2.0, 2.2, -0.4, 0.8, -1.4, 1.0,
    -0.3, 1.5, -0.9, 0.6, -2.4, 1.1, 0.3, -1.2, 1.8, 0.1,
    1.0, -1.6, 0.4, 2.1, -0.5, 0.7, -1.0, 1.4, -2.2, 0.2,
    -0.8, 0.9, -1.9, 0.3, 1.6, -0.2, 1.2, -1.3, 0.5, 2.4,
    0.4, -1.2, 1.7, -0.6, 0.1, -2.0, 1.0, 0.6, -0.9, 1.3,
    -0.6, 0.8, -1.7, 0.2, -2.5, 1.4, -0.3, -1.1, 0.6, -2.0,
    0.3, -1.4, -0.5, 1.1, -2.2, 0.0, -0.9, 1.8, -1.7, -0.2,
    -1.0, 0.5, -2.0, -0.3, 1.3, -1.3, 0.2, -0.7, -2.6, 0.9,
    -0.4, 1.0, -1.5, 0.1, -0.9, -2.1, 0.7, -0.2, 1.5, -1.2,
    0.2, -0.8, -1.8, 0.9, -0.1, -1.3, 1.6, -2.3, -0.5, 0.4,
    -1.1, 0.6, -0.4, -2.4, 1.2, -0.7, 0.0, -1.6, 0.8, -0.2,
    0.5, -1.5, -0.6, 1.0, -2.0, -0.1, -1.0, 1.7, -0.3, -2.5,
    -0.7, 0.3, -1.9, 0.8, -0.4, -1.2, 1.3, -2.2, 0.1, -0.9,
    0.9, -0.5, -1.4, 0.2, -2.6, 1.1, -0.8, -0.1, -1.7, 0.6,
    -0.3, -1.1, 1.5, -0.6, -2.0, 0.4, -1.3, 0.9, -0.2, -1.8,
    0.1, -0.9, -1.6, 1.2, -0.4, -2.3, 0.6, -1.0, 0.3, -0.5,
    -1.2, 0.7, -0.3, -1.9, 1.0, -0.7, 0.2, -1.4, 1.6, -0.1,
    0.2, -1.0, 0.9, -0.4, 1.5, -1.6, 0.5, -0.1, 1.1,
    -0.6, 0.4, 1.3, -1.2, 0.0, 0.8, -2.0, 0.6, -0.3,
    0.9, -0.2, -1.4, 0.3, 1.7, -0.8, 0.5, -1.9, 0.1,
    -0.5, 1.1, 0.2, -1.1, 0.7, -0.3, 1.4, -1.5, 0.4,
    0.6, -0.9, 1.2, -0.1, -1.7, 0.3, 0.9, -0.6, 1.6,
    -0.2, 0.5, -1.3, 1.0, 0.1, -0.7, 1.8, -2.2, 0.4,
    0.8, -0.5, 0.3, -1.6, 1.3, 0.0, -0.9, 0.6, -1.2,
    -0.3, 1.0, -0.8, 0.4, 1.5, -1.4, 0.2, -0.4, 0.9,
    0.5, -0.6, 1.1, 0.1, -1.0, 0.7, 1.6, -0.3, -1.5,
    0.2, 0.9, -0.4, 1.3, -0.9, 0.4, -1.7, 0.6, -0.1,
    -0.7, 0.3, 1.0, -0.2, 0.6, -1.2, 1.4, 0.0, 0.8,
    0.4, -1.1, 0.7, -0.4, 1.2, 0.1, -0.8, 1.7, -0.2,
    -0.4, 0.6, -1.3, 0.9, 0.2, -0.6, 1.1, -1.0, 0.5,
    0.7, 0.0, -0.9, 1.4, -0.3, 0.5, -1.5, 0.9, 0.3,
    -0.1, 1.2, -0.7, 0.3, -1.4, 0.8, 0.1, -0.5, 1.0,
    0.6, -0.3, 1.5, -1.1, 0.4, -0.6, 0.9, 0.2, -0.9,
    -0.8, 0.4, 0.0, 1.1, -0.5, 0.7, -1.2, 1.3, 0.2,
    0.3, -0.7, 1.0, -0.2, 0.6, -1.0, 0.1, 1.4, -0.4,
    0.5, -0.7, 1.2, 0.0, -1.3, 0.8,
    -0.3, 0.9, 0.3, -1.0, 1.5, -0.2,
    0.7, -0.5, 1.1, 0.2, -1.1, 0.6,
    0.1, 1.3, -0.6, 0.8, -0.2, 1.0,
    -0.8, 0.4, 1.6, -0.1, 0.7, 0.3,
    0.9, -0.4, 0.2, 1.2, -1.3, 0.5,
    0.3, 1.0, -0.7, 0.6, 1.8, -0.2,
    -0.5, 0.8, 0.1, 1.4, -0.9, 0.4,
    0.6, -0.1, 1.1, 0.3, -0.6, 1.5,
    0.2, 0.8, -0.4, 0.5, -1.0, 1.2,
]
mlo_out_phase = [
    0.9628, 0.9633, 0.9639, 0.9645, 0.9651, 0.9656, 0.9662, 0.9668, 0.9672, 0.9672,
    0.9674, 0.9678, 0.9679, 0.9685, 0.9685, 0.9690, 0.9695, 0.9695, 0.9701, 0.9702,
    0.9705, 0.9708, 0.9711, 0.9714, 0.9716, 0.9718, 0.9722, 0.9725, 0.9729, 0.9732,
    0.9737, 0.9740, 0.9744, 0.9748, 0.9754, 0.9757, 0.9760, 0.9765, 0.9767, 0.9771,
    0.9774, 0.9776, 0.9780, 0.9784, 0.9786, 0.9790, 0.9795, 0.9801, 0.9807, 0.9813,
    0.9820, 0.9820, 0.9826, 0.9827, 0.9831, 0.9836, 0.9840, 0.9848, 0.9852, 0.9854,
    0.9858, 0.9869, 0.9877, 0.9887, 0.9890, 0.9900, 0.9903, 0.9904, 0.9907, 0.9912,
    0.9921, 0.9925, 0.9942, 0.9945, 0.9945, 0.9948, 0.9949, 0.9954, 0.9955, 0.9961,
    0.9963, 0.9966, 0.9968, 0.9975, 0.9978, 0.9980, 0.9985, 0.9986, 0.9998, 1.0001,
    1.0006, 1.0009, 1.0012, 1.0012, 1.0012, 1.0014, 1.0017, 1.0023, 1.0025, 1.0030,
    1.0032, 1.0038, 1.0042, 1.0051, 1.0058, 1.0061, 1.0069, 1.0075, 1.0076, 1.0079,
    1.0080, 1.0092, 1.0098, 1.0102, 1.0106, 1.0119, 1.0119, 1.0121, 1.0129, 1.0132,
    1.0150, 1.0157, 1.0168, 1.0171, 1.0174, 1.0177, 1.0186, 1.0189, 1.0191, 1.0192,
    1.0194, 1.0207, 1.0220, 1.0236, 1.0245, 1.0263, 1.0302, 1.0306, 1.0326, 1.0357,
    1.0366, 1.0375, 1.0376, 1.0380, 1.0385, 1.0394, 1.0397, 1.0398, 1.0398,
]
mlo_out_resid = [
    -0.40, 3.80, -1.40, -0.06, 0.20, -1.50, 0.14, -1.84, 0.74, -0.74,
    -1.66, 0.54, -1.10, -1.60, 0.26, 0.20, -1.20, 2.24, 1.10, 0.14,
    -0.20, 1.50, 0.60, 2.00, 0.90, -1.20, -1.60, 1.20, 1.20, 1.10,
    -1.06, 0.70, 1.00, 0.40, -1.46, 1.10, -1.50, -1.64, 0.90, -1.14,
    -2.26, 0.40, 0.54, -1.86, 1.80, 1.20, -2.06, 1.60, -1.80, 1.54,
    -2.60, 2.50, 4.14, -1.50, 2.46, 2.10, 1.50, -1.90, 2.76, 4.80,
    1.50, 2.14, 2.50, -1.70, -1.60, -3.76, 2.40, -2.70, 4.06, 2.14,
    2.30, 2.86, 3.00, 4.06, -2.40, -2.90, 3.00, -2.60, 2.74, 2.50,
    4.56, -2.60, 4.56, -2.80, 3.24, -2.90, -2.90, -2.30, -2.66, 2.86,
    -4.10, -2.34, 6.90, -3.50, -4.74, -4.06, -3.26, 3.06, -4.90, 2.74,
    -3.14, 2.66, -3.60, 2.54, -4.10, 2.86, -3.70, -5.60, -3.46, -6.14,
    2.66, -3.60, 5.26, -3.14, -3.14, 3.20, -4.70, -3.30, 2.86, -3.40,
    2.94, 2.70, -3.14, 2.80, 3.26, -3.46, -4.14, 2.70, -3.46, 3.20,
    -2.46, -2.70, 2.66, 2.66, 2.18, 2.44, -2.70, -2.06, -2.66, -1.90,
    3.40, -1.20, 2.30, 2.94, 2.54, -1.54, 2.06, -1.00, -0.70,
]

apt_phase = apt_band_phase + apt_out_phase
apt_resid = apt_band_resid + apt_out_resid
mlo_phase = mlo_band_phase + mlo_out_phase
mlo_resid = mlo_band_resid + mlo_out_resid

W, H = 1390, 642
FONT_SANS = "Liberation Sans, Arial, sans-serif"

# panel: name, x, y, axis suffix, pixel box (left, top, right, bottom), y range, y major, y minor
panels = [
    ("FGS", fgs_phase, fgs_resid, "", (75, 17, 653, 251), 4, 2, 0.5),
    ("APT", apt_phase, apt_resid, "2", (783, 15, 1361, 248), 7, 5, 1),
    ("STIS", stis_phase, stis_resid, "3", (75, 363, 653, 595), 4, 2, 0.5),
    ("MLO", mlo_phase, mlo_resid, "4", (783, 358, 1361, 592), 7, 5, 1),
]

fig = go.Figure()
layout = dict(
    width=W, height=H, margin=dict(l=0, r=0, t=0, b=0),
    paper_bgcolor="white", plot_bgcolor="white", showlegend=False,
)
annotations = []
shapes = []

for name, xs, ys, sfx, box, ylim, ymaj, ymin in panels:
    left, top, right, bottom = box
    xa, ya = "xaxis" + sfx, "yaxis" + sfx
    xr, yr = "x" + sfx, "y" + sfx
    fig.add_trace(go.Scatter(
        x=xs, y=ys, mode="markers", xaxis=xr, yaxis=yr,
        marker=dict(color="black", size=6.5, line=dict(width=0)),
        hoverinfo="skip",
    ))
    layout[xa] = dict(
        domain=[left / W, right / W], anchor=yr, range=[0.96, 1.04],
        tick0=0.96, dtick=0.02, ticks="inside", ticklen=8, tickwidth=1.2,
        tickcolor="black",
        minor=dict(tick0=0.96, dtick=0.005, ticks="inside", ticklen=6,
                   tickwidth=1.2, tickcolor="black"),
        showline=True, linecolor="black", linewidth=2, mirror="allticks",
        showgrid=False, zeroline=False,
        tickfont=dict(family=FONT_SANS, size=15, color="black"),
    )
    layout[ya] = dict(
        domain=[1 - bottom / H, 1 - top / H], anchor=xr, range=[-ylim, ylim],
        tick0=0, dtick=ymaj, ticks="inside", ticklen=8, tickwidth=1.2,
        tickcolor="black",
        minor=dict(tick0=0, dtick=ymin, ticks="inside", ticklen=6,
                   tickwidth=1.2, tickcolor="black"),
        showline=True, linecolor="black", linewidth=2, mirror="allticks",
        showgrid=False, zeroline=False,
        tickfont=dict(family=FONT_SANS, size=15, color="black"),
    )
    # zero reference line
    shapes.append(dict(type="line", xref=xr, yref=yr, x0=0.96, x1=1.04, y0=0, y1=0,
                       line=dict(color="black", width=1, dash="10px,7px"), layer="below"))
    # panel label
    annotations.append(dict(text=name, xref="paper", yref="paper",
                            x=(left + 37) / W, y=1 - (top + 30) / H,
                            xanchor="left", yanchor="middle", showarrow=False,
                            font=dict(family="Liberation Serif, Times New Roman, serif",
                                      size=29, color="black")))
    # axis titles
    annotations.append(dict(text="Orbital Phase", xref="paper", yref="paper",
                            x=(left + right) / 2 / W, y=1 - (bottom + 33) / H,
                            xanchor="center", yanchor="middle", showarrow=False,
                            font=dict(family="Liberation Mono, Courier New, monospace",
                                      size=20, color="black")))
    annotations.append(dict(text="(O\u2212C)/<i>\u03c3</i>", xref="paper", yref="paper",
                            x=(left - 53) / W, y=1 - (top + bottom) / 2 / H,
                            xanchor="center", yanchor="middle", showarrow=False,
                            textangle=-90,
                            font=dict(family=FONT_SANS, size=22, color="black")))

layout["annotations"] = annotations
layout["shapes"] = shapes
fig.update_layout(**layout)

fig.write_html("out.html")
